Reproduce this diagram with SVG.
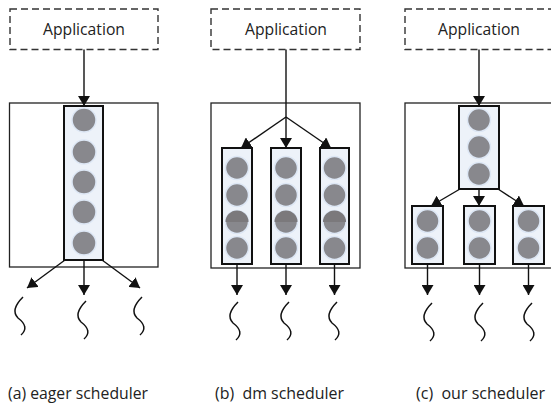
<svg xmlns="http://www.w3.org/2000/svg" width="551" height="408" viewBox="0 0 551 408">
<style>
.app{fill:#fff;stroke:#333;stroke-width:1.4;stroke-dasharray:7 4}
.outer{fill:#fff;stroke:#222;stroke-width:1.3}
.col{fill:#edf2f9;stroke:#111;stroke-width:2}
.dot{fill:#88888d;stroke:#dde7f5;stroke-width:1.5}
.dark{fill:#7b797c}
.lbl{font-family:"Open Sans","Liberation Sans",sans-serif;font-size:15.5px;fill:#222;text-anchor:middle}
.cap{font-family:"Open Sans","Liberation Sans",sans-serif;font-size:15.5px;fill:#222;white-space:pre}
.con{stroke:#111;stroke-width:1.4;fill:none}
.sq{stroke:#111;stroke-width:1.5;fill:none}
</style>
<defs>
<marker id="ah" viewBox="0 0 10 12" refX="10" refY="6" markerWidth="10" markerHeight="12" markerUnits="userSpaceOnUse" orient="auto">
<path d="M0,0 L10,6 L0,12 z" fill="#111"/>
</marker>
<path id="squig" d="M1,0 Q-12,13 -4,21 Q8,30 -1,38"/>
</defs>

<g id="panel-a">
<g id="app-a"><rect class="app" x="10" y="9" width="148" height="40.5"/><text class="lbl" x="84" y="35" textLength="82" lengthAdjust="spacingAndGlyphs">Application</text></g>
<g id="sched-a"><rect class="outer" x="9.5" y="103" width="148.5" height="164"/></g>
<g id="queue-a"><rect class="col" x="64" y="106" width="39" height="154"/>
<circle class="dot" cx="84" cy="120" r="12"/><circle class="dot" cx="84" cy="152" r="12"/><circle class="dot" cx="84" cy="182" r="12"/><circle class="dot" cx="84" cy="212" r="12"/><circle class="dot" cx="84" cy="243" r="12"/></g>
<g id="workers-a"><use class="sq" href="#squig" x="22" y="297"/><use class="sq" href="#squig" x="85" y="301"/><use class="sq" href="#squig" x="141" y="297"/></g>
<text class="cap" x="8" y="399" textLength="140" lengthAdjust="spacingAndGlyphs">(a) eager scheduler</text>
</g>

<g id="panel-b">
<g id="app-b"><rect class="app" x="211" y="9" width="149" height="40.5"/><text class="lbl" x="286" y="35" textLength="82" lengthAdjust="spacingAndGlyphs">Application</text></g>
<g id="sched-b"><rect class="outer" x="211" y="103" width="149" height="165"/></g>
<g id="queue-b1"><rect class="col" x="222" y="148" width="30" height="116"/>
<circle class="dot" cx="237" cy="168" r="11.5"/><circle class="dot" cx="237" cy="195" r="11.5"/><circle class="dot" cx="237" cy="222" r="11.5"/><path class="dark" d="M225.5,222 A11.5,11.5 0 0 1 248.5,222 z"/><circle class="dot" cx="237" cy="248" r="11.5"/></g>
<g id="queue-b2"><rect class="col" x="271" y="148" width="30" height="116"/>
<circle class="dot" cx="286" cy="168" r="11.5"/><circle class="dot" cx="286" cy="195" r="11.5"/><circle class="dot" cx="286" cy="222" r="11.5"/><path class="dark" d="M274.5,222 A11.5,11.5 0 0 1 297.5,222 z"/><circle class="dot" cx="286" cy="248" r="11.5"/></g>
<g id="queue-b3"><rect class="col" x="320" y="148" width="29" height="116"/>
<circle class="dot" cx="334.5" cy="168" r="11.5"/><circle class="dot" cx="334.5" cy="195" r="11.5"/><circle class="dot" cx="334.5" cy="222" r="11.5"/><path class="dark" d="M323,222 A11.5,11.5 0 0 1 346,222 z"/><circle class="dot" cx="334.5" cy="248" r="11.5"/></g>
<g id="workers-b"><use class="sq" href="#squig" x="237" y="302"/><use class="sq" href="#squig" x="288" y="302"/><use class="sq" href="#squig" x="336" y="302"/></g>
<text class="cap" x="215" y="399" textLength="129" lengthAdjust="spacingAndGlyphs">(b)  dm scheduler</text>
</g>

<g id="panel-c">
<g id="app-c"><rect class="app" x="405" y="9" width="148" height="40.5"/><text class="lbl" x="479" y="35" textLength="82" lengthAdjust="spacingAndGlyphs">Application</text></g>
<g id="sched-c"><rect class="outer" x="405" y="103" width="148" height="165"/></g>
<g id="queue-c0"><rect class="col" x="459" y="106" width="40" height="83"/>
<circle class="dot" cx="479" cy="120" r="11.5"/><circle class="dot" cx="479" cy="147" r="11.5"/><circle class="dot" cx="479" cy="174" r="11.5"/></g>
<g id="queue-c1"><rect class="col" x="412" y="206" width="31" height="58"/>
<circle class="dot" cx="427.5" cy="221" r="11.5"/><circle class="dot" cx="427.5" cy="248" r="11.5"/></g>
<g id="queue-c2"><rect class="col" x="464" y="206" width="31" height="58"/>
<circle class="dot" cx="479.5" cy="221" r="11.5"/><circle class="dot" cx="479.5" cy="248" r="11.5"/></g>
<g id="queue-c3"><rect class="col" x="513" y="206" width="31" height="58"/>
<circle class="dot" cx="528.5" cy="221" r="11.5"/><circle class="dot" cx="528.5" cy="248" r="11.5"/></g>
<g id="workers-c"><use class="sq" href="#squig" x="431" y="303"/><use class="sq" href="#squig" x="482" y="303"/><use class="sq" href="#squig" x="531" y="303"/></g>
<text class="cap" x="416" y="399" textLength="129" lengthAdjust="spacingAndGlyphs">(c)  our scheduler</text>
</g>

<g id="connectors">
<line class="con" x1="84" y1="49.5" x2="84" y2="106" marker-end="url(#ah)"/>
<line class="con" x1="65" y1="260" x2="27" y2="288" marker-end="url(#ah)"/>
<line class="con" x1="84" y1="260" x2="84" y2="295" marker-end="url(#ah)"/>
<line class="con" x1="102" y1="260" x2="140" y2="288" marker-end="url(#ah)"/>

<polyline class="con" points="286,49.5 286,117"/>
<line class="con" x1="286" y1="117" x2="241" y2="148" marker-end="url(#ah)"/>
<line class="con" x1="286" y1="117" x2="286" y2="148" marker-end="url(#ah)"/>
<line class="con" x1="286" y1="117" x2="331" y2="148" marker-end="url(#ah)"/>
<line class="con" x1="237" y1="264" x2="237" y2="295" marker-end="url(#ah)"/>
<line class="con" x1="286" y1="264" x2="286" y2="295" marker-end="url(#ah)"/>
<line class="con" x1="334.5" y1="264" x2="334.5" y2="295" marker-end="url(#ah)"/>

<line class="con" x1="479" y1="49.5" x2="479" y2="106" marker-end="url(#ah)"/>
<line class="con" x1="460" y1="189" x2="431" y2="206" marker-end="url(#ah)"/>
<line class="con" x1="479" y1="189" x2="479" y2="206" marker-end="url(#ah)"/>
<line class="con" x1="498" y1="189" x2="524" y2="206" marker-end="url(#ah)"/>
<line class="con" x1="427.5" y1="264" x2="427.5" y2="295" marker-end="url(#ah)"/>
<line class="con" x1="479.5" y1="264" x2="479.5" y2="295" marker-end="url(#ah)"/>
<line class="con" x1="528.5" y1="264" x2="528.5" y2="295" marker-end="url(#ah)"/>
</g>
</svg>
